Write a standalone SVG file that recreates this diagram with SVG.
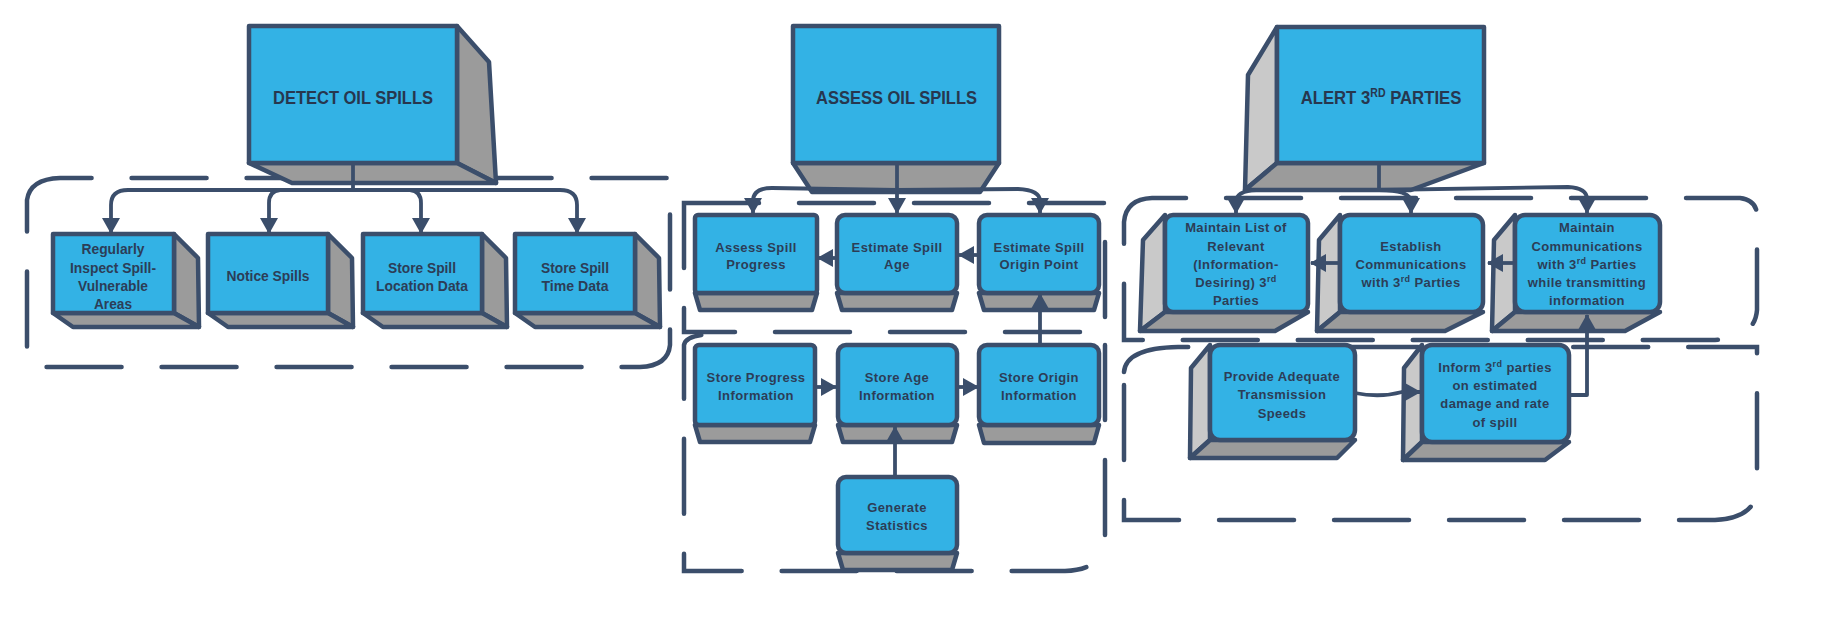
<svg xmlns="http://www.w3.org/2000/svg" width="1843" height="631" viewBox="0 0 1843 631">
<style>
.bl{fill:#33b2e5;stroke:#3b4e6b;stroke-width:4.5;stroke-linejoin:round}
.g{fill:#9b9b9b;stroke:#3b4e6b;stroke-width:4.5;stroke-linejoin:round}
.lg{fill:#c9c9c9;stroke:#3b4e6b;stroke-width:4.5;stroke-linejoin:round}
.cont{fill:none;stroke:#3b4e6b;stroke-width:4.5;stroke-dasharray:75 40;stroke-linecap:round}
.con{fill:none;stroke:#3b4e6b;stroke-width:3.8;stroke-linejoin:round}
.ar{marker-end:url(#ah)}
.tc{font-family:"Liberation Sans",Arial,sans-serif;font-weight:bold;fill:#2c3d57;text-anchor:middle;font-size:15px}
.tt{font-family:"Liberation Sans",Arial,sans-serif;font-weight:bold;fill:#27374f;font-size:19px}
.tw{font-family:"Liberation Sans",Arial,sans-serif;font-weight:bold;fill:#2c3d57;text-anchor:middle;font-size:13px;letter-spacing:0.4px}
</style>
<defs>
<marker id="ah" viewBox="0 0 16 18" markerWidth="16" markerHeight="18" refX="15" refY="9" orient="auto" markerUnits="userSpaceOnUse">
<path d="M0,0 L16,9 L0,18 Z" fill="#3b4e6b"/>
</marker>
</defs>

<g id="containers">
<path class="cont" d="M27,200 Q30,179 60,178 L670,178 L670,345 Q668,366 640,367 L27,367 Z"/>
<path class="cont" d="M684,203 L1105,203 L1105,332 L684,332 Z"/>
<path class="cont" d="M1105,345 L1105,540 Q1103,570 1065,571 L684,571 L684,345 Q686,334 717,334"/>
<path class="cont" d="M1124,222 Q1126,199 1152,198 L1740,198 Q1757,200 1757,216 L1757,310 Q1755,338 1715,340 L1124,340 Z"/>
<path class="cont" d="M1124,372 Q1126,348 1178,347 L1757,347 L1757,490 Q1755,518 1715,520 L1124,520 Z"/>
</g>

<g id="detect">
<polygon class="g" points="457,26 489,62 496,183 457,163"/>
<polygon class="g" points="249,163 457,163 496,183 292,183"/>
<rect class="bl" x="249" y="26" width="208" height="137"/>
<text class="tt" x="273" y="104" textLength="160" lengthAdjust="spacingAndGlyphs">DETECT OIL SPILLS</text>
</g>

<g id="inspect">
<polygon class="g" points="174,234 198,258 199,327 174,313"/>
<polygon class="g" points="53,313 174,313 199,327 73,327"/>
<rect class="bl" x="53" y="234" width="121" height="79"/>
<text class="tc" x="113" y="254" textLength="63" lengthAdjust="spacingAndGlyphs">Regularly</text>
<text class="tc" x="113" y="273" textLength="86" lengthAdjust="spacingAndGlyphs">Inspect Spill-</text>
<text class="tc" x="113" y="291" textLength="70" lengthAdjust="spacingAndGlyphs">Vulnerable</text>
<text class="tc" x="113" y="309" textLength="38" lengthAdjust="spacingAndGlyphs">Areas</text>
</g>
<g id="notice">
<polygon class="g" points="328,234 352,258 353,327 328,313"/>
<polygon class="g" points="208,313 328,313 353,327 228,327"/>
<rect class="bl" x="208" y="234" width="120" height="79"/>
<text class="tc" x="268" y="281" textLength="83" lengthAdjust="spacingAndGlyphs">Notice Spills</text>
</g>
<g id="location">
<polygon class="g" points="482,234 506,258 507,327 482,313"/>
<polygon class="g" points="363,313 482,313 507,327 383,327"/>
<rect class="bl" x="363" y="234" width="119" height="79"/>
<text class="tc" x="422" y="273" textLength="68" lengthAdjust="spacingAndGlyphs">Store Spill</text>
<text class="tc" x="422" y="291" textLength="92" lengthAdjust="spacingAndGlyphs">Location Data</text>
</g>
<g id="time">
<polygon class="g" points="635,234 659,258 660,327 635,313"/>
<polygon class="g" points="515,313 635,313 660,327 535,327"/>
<rect class="bl" x="515" y="234" width="120" height="79"/>
<text class="tc" x="575" y="273" textLength="68" lengthAdjust="spacingAndGlyphs">Store Spill</text>
<text class="tc" x="575" y="291" textLength="67" lengthAdjust="spacingAndGlyphs">Time Data</text>
</g>

<g id="assess">
<polygon class="g" points="793,163 999,163 980,192 812,192"/>
<rect class="bl" x="793" y="26" width="206" height="137"/>
<text class="tt" x="816" y="104" textLength="161" lengthAdjust="spacingAndGlyphs">ASSESS OIL SPILLS</text>
</g>
<g id="progress">
<polygon class="g" points="695,293 817,293 812,310 700,310"/>
<rect class="bl" x="695" y="215" width="122" height="78" rx="3"/>
<text class="tw" x="756" y="251.5">Assess Spill</text>
<text class="tw" x="756" y="268.5">Progress</text>
</g>
<g id="age">
<polygon class="g" points="837,293 957,293 952,310 842,310"/>
<rect class="bl" x="837" y="215" width="120" height="78" rx="8"/>
<text class="tw" x="897" y="251.5">Estimate Spill</text>
<text class="tw" x="897" y="268.5">Age</text>
</g>
<g id="origin">
<polygon class="g" points="979,293 1099,293 1094,310 984,310"/>
<rect class="bl" x="979" y="215" width="120" height="78" rx="8"/>
<text class="tw" x="1039" y="251.5">Estimate Spill</text>
<text class="tw" x="1039" y="268.5">Origin Point</text>
</g>
<g id="storeprogress">
<polygon class="g" points="695,425 815,425 810,442 700,442"/>
<rect class="bl" x="695" y="345" width="120" height="80" rx="4"/>
<text class="tw" x="756" y="381.5">Store Progress</text>
<text class="tw" x="756" y="399.5">Information</text>
</g>
<g id="storeage">
<polygon class="g" points="838,425 957,425 952,442 843,442"/>
<rect class="bl" x="838" y="345" width="119" height="80" rx="8"/>
<text class="tw" x="897" y="381.5">Store Age</text>
<text class="tw" x="897" y="399.5">Information</text>
</g>
<g id="storeorigin">
<polygon class="g" points="979,425 1099,425 1094,443 984,443"/>
<rect class="bl" x="979" y="345" width="120" height="80" rx="8"/>
<text class="tw" x="1039" y="381.5">Store Origin</text>
<text class="tw" x="1039" y="399.5">Information</text>
</g>
<g id="statistics">
<polygon class="g" points="838,553 957,553 952,570 843,570"/>
<rect class="bl" x="838" y="477" width="119" height="76" rx="8"/>
<text class="tw" x="897" y="512">Generate</text>
<text class="tw" x="897" y="530">Statistics</text>
</g>

<g id="alert">
<polygon class="lg" points="1277,27 1248,75 1245,190 1277,163"/>
<polygon class="g" points="1277,163 1484,163 1411,190 1245,190"/>
<rect class="bl" x="1277" y="27" width="207" height="136"/>
<text class="tt" x="1569.3" y="104" text-anchor="middle" transform="scale(0.88,1)">ALERT 3<tspan font-size="12" dy="-7">RD</tspan><tspan dy="7"> PARTIES</tspan></text>
</g>
<g id="maintainlist">
<polygon class="lg" points="1165,215 1143,240 1140,331 1165,312"/>
<polygon class="g" points="1165,312 1308,312 1275,331 1140,331"/>
<rect class="bl" x="1165" y="215" width="143" height="97" rx="8"/>
<text class="tw" x="1236" y="231.5">Maintain List of</text>
<text class="tw" x="1236" y="250.5">Relevant</text>
<text class="tw" x="1236" y="268.5">(Information-</text>
<text class="tw" x="1236" y="286.5">Desiring) 3<tspan font-size="9" dy="-5">rd</tspan></text>
<text class="tw" x="1236" y="304.5">Parties</text>
</g>
<g id="establish">
<polygon class="lg" points="1340,215 1319,240 1317,331 1340,312"/>
<polygon class="g" points="1340,312 1483,312 1445,331 1317,331"/>
<rect class="bl" x="1340" y="215" width="143" height="97" rx="10"/>
<text class="tw" x="1411" y="250.5">Establish</text>
<text class="tw" x="1411" y="268.5">Communications</text>
<text class="tw" x="1411" y="286.5">with 3<tspan font-size="9" dy="-5">rd</tspan><tspan dy="5"> Parties</tspan></text>
</g>
<g id="maintaincomms">
<polygon class="lg" points="1515,215 1494,240 1492,331 1515,312"/>
<polygon class="g" points="1515,312 1660,312 1625,331 1492,331"/>
<rect class="bl" x="1515" y="215" width="145" height="97" rx="10"/>
<text class="tw" x="1587" y="231.5">Maintain</text>
<text class="tw" x="1587" y="250.5">Communications</text>
<text class="tw" x="1587" y="268.5">with 3<tspan font-size="9" dy="-5">rd</tspan><tspan dy="5"> Parties</tspan></text>
<text class="tw" x="1587" y="286.5">while transmitting</text>
<text class="tw" x="1587" y="304.5">information</text>
</g>
<g id="provide">
<polygon class="lg" points="1210,345 1191,368 1190,458 1210,440"/>
<polygon class="g" points="1210,440 1355,440 1337,458 1190,458"/>
<rect class="bl" x="1210" y="345" width="145" height="95" rx="10"/>
<text class="tw" x="1282" y="380.5">Provide Adequate</text>
<text class="tw" x="1282" y="398.5">Transmission</text>
<text class="tw" x="1282" y="417.5">Speeds</text>
</g>
<g id="inform">
<polygon class="lg" points="1422,345 1404,368 1403,460 1422,442"/>
<polygon class="g" points="1422,442 1569,442 1545,460 1403,460"/>
<rect class="bl" x="1422" y="345" width="147" height="97" rx="10"/>
<text class="tw" x="1495" y="371.5">Inform 3<tspan font-size="9" dy="-5">rd</tspan><tspan dy="5"> parties</tspan></text>
<text class="tw" x="1495" y="389.5">on estimated</text>
<text class="tw" x="1495" y="407.5">damage and rate</text>
<text class="tw" x="1495" y="426.5">of spill</text>
</g>

<g id="connectors">
<path class="con" d="M353,163 L353,190"/>
<path class="con ar" d="M353,190 L128,190 Q111,190 111,205 L111,233"/>
<path class="con ar" d="M353,190 L280,190 Q269,191 269,203 L269,233"/>
<path class="con ar" d="M353,190 L410,190 Q421,191 421,203 L421,233"/>
<path class="con ar" d="M353,190 L560,190 Q577,190 577,205 L577,233"/>

<path class="con ar" d="M897,163 L897,213"/>
<path class="con ar" d="M897,190 L772,188 Q753,188 753,201 L753,213"/>
<path class="con ar" d="M897,190 L1018,189 Q1040,190 1040,201 L1040,213"/>
<path class="con ar" d="M837,258 L818,258"/>
<path class="con ar" d="M979,255 L959,255"/>
<path class="con ar" d="M815,387 L836,387"/>
<path class="con ar" d="M957,387 L978,387"/>
<path class="con ar" d="M895,477 L895,427"/>
<path class="con ar" d="M1040,345 L1040,294"/>

<path class="con" d="M1379,163 L1379,190"/>
<path class="con ar" d="M1379,190 L1256,190 Q1236,191 1236,202 L1236,213"/>
<path class="con ar" d="M1379,190 Q1411,190 1411,202 L1411,213"/>
<path class="con ar" d="M1379,190 L1568,187 Q1587,188 1587,199 L1587,213"/>
<path class="con ar" d="M1515,263 L1488,263"/>
<path class="con ar" d="M1340,263 L1311,263"/>
<path class="con ar" d="M1355,393 Q1380,398 1402,392 L1420,392"/>
<path class="con ar" d="M1569,395 L1587,395 L1587,315"/>
</g>
</svg>
